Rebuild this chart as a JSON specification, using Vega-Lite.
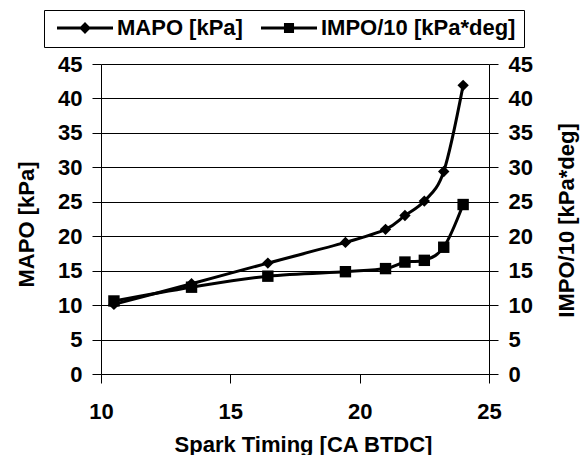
{
  "$schema": "https://vega.github.io/schema/vega-lite/v6.json",
  "width": 388,
  "height": 310,
  "autosize": {"type": "none"},
  "padding": {"left": 101, "top": 64, "right": 93, "bottom": 81},
  "background": "white",
  "config": {
    "font": "Liberation Sans",
    "view": {"stroke": null},
    "axis": {
      "domainColor": "black",
      "domainWidth": 1,
      "tickColor": "black",
      "tickWidth": 1,
      "tickSize": 9,
      "labelFlush": false,
      "labelFontSize": 22,
      "labelFontWeight": "bold",
      "labelColor": "black",
      "titleFontSize": 22,
      "titleFontWeight": "bold",
      "titleColor": "black"
    }
  },
  "data": {
    "values": [
      {"timing": 10.5, "series": "MAPO [kPa]", "value": 10.1},
      {"timing": 13.5, "series": "MAPO [kPa]", "value": 13.1},
      {"timing": 16.45, "series": "MAPO [kPa]", "value": 16.1},
      {"timing": 19.45, "series": "MAPO [kPa]", "value": 19.1},
      {"timing": 21.0, "series": "MAPO [kPa]", "value": 21.0},
      {"timing": 21.75, "series": "MAPO [kPa]", "value": 23.0},
      {"timing": 22.5, "series": "MAPO [kPa]", "value": 25.1},
      {"timing": 23.25, "series": "MAPO [kPa]", "value": 29.4},
      {"timing": 24.0, "series": "MAPO [kPa]", "value": 41.9},
      {"timing": 10.5, "series": "IMPO/10 [kPa*deg]", "value": 10.6},
      {"timing": 13.5, "series": "IMPO/10 [kPa*deg]", "value": 12.6},
      {"timing": 16.45, "series": "IMPO/10 [kPa*deg]", "value": 14.2},
      {"timing": 19.45, "series": "IMPO/10 [kPa*deg]", "value": 14.85},
      {"timing": 21.0, "series": "IMPO/10 [kPa*deg]", "value": 15.3},
      {"timing": 21.75, "series": "IMPO/10 [kPa*deg]", "value": 16.25},
      {"timing": 22.5, "series": "IMPO/10 [kPa*deg]", "value": 16.5},
      {"timing": 23.25, "series": "IMPO/10 [kPa*deg]", "value": 18.4},
      {"timing": 24.0, "series": "IMPO/10 [kPa*deg]", "value": 24.6}
    ]
  },
  "encoding": {
    "x": {
      "field": "timing",
      "type": "quantitative",
      "scale": {"domain": [10, 25], "nice": false, "zero": false},
      "axis": {
        "values": [10, 15, 20, 25],
        "grid": false,
        "labelPadding": 18,
        "title": "Spark Timing [CA BTDC]",
        "titleX": 202,
        "titleY": 77,
        "titleBaseline": "alphabetic",
        "titleAlign": "center"
      }
    }
  },
  "layer": [
    {
      "mark": {"type": "line", "interpolate": "cardinal", "color": "black", "strokeWidth": 3},
      "encoding": {
        "y": {
          "field": "value",
          "type": "quantitative",
          "scale": {"domain": [0, 45], "nice": false},
          "axis": {
            "orient": "left",
            "values": [0, 5, 10, 15, 20, 25, 30, 35, 40, 45],
            "grid": true,
            "gridColor": "black",
            "gridWidth": 1,
            "gridOpacity": 1,
            "labelPadding": 10,
            "title": "MAPO [kPa]",
            "titleAngle": 270,
            "titleBaseline": "alphabetic",
            "titleAlign": "center",
            "titleX": -68,
            "titleY": 160
          }
        },
        "detail": {"field": "series", "type": "nominal"}
      }
    },
    {
      "mark": {"type": "point", "filled": true, "opacity": 1, "color": "black", "size": 130},
      "encoding": {
        "y": {
          "field": "value",
          "type": "quantitative",
          "scale": {"domain": [0, 45], "nice": false},
          "axis": {
            "orient": "right",
            "values": [0, 5, 10, 15, 20, 25, 30, 35, 40, 45],
            "grid": false,
            "labelPadding": 10,
            "title": "IMPO/10 [kPa*deg]",
            "titleAngle": 270,
            "titleBaseline": "alphabetic",
            "titleAlign": "center",
            "titleX": 84,
            "titleY": 156
          }
        },
        "shape": {
          "field": "series",
          "type": "nominal",
          "scale": {"domain": ["MAPO [kPa]", "IMPO/10 [kPa*deg]"], "range": ["diamond", "square"]},
          "legend": null
        }
      }
    },
    {
      "transform": [{"filter": "datum.value < 0"}],
      "mark": {"type": "point", "filled": true, "color": "black", "opacity": 1},
      "encoding": {
        "y": {
          "field": "value",
          "type": "quantitative",
          "scale": {"domain": [0, 45], "nice": false},
          "axis": null
        },
        "shape": {
          "field": "series",
          "type": "nominal",
          "scale": {
            "domain": ["MAPO [kPa]", "IMPO/10 [kPa*deg]"],
            "range": [
              "M-1,-0.05H1V0.05H-1ZM0,-0.21L0.21,0L0,0.21L-0.21,0Z",
              "M-1,-0.05H1V0.05H-1ZM-0.18,-0.18H0.18V0.18H-0.18Z"
            ]
          },
          "legend": {
            "title": null,
            "orient": "none",
            "legendX": -57,
            "legendY": -54,
            "direction": "horizontal",
            "strokeColor": "black",
            "fillColor": "white",
            "padding": 8,
            "symbolSize": 3136,
            "clipHeight": 20,
            "symbolOffset": 5,
            "labelFontSize": 22,
            "labelFontWeight": "bold",
            "labelColor": "black",
            "labelLimit": 400,
            "labelOffset": 4,
            "columnPadding": 13,
            "symbolStrokeWidth": 0,
            "symbolFillColor": "black",
            "symbolOpacity": 1
          }
        }
      }
    }
  ],
  "resolve": {"scale": {"y": "independent", "shape": "independent"}, "legend": {"shape": "independent"}}
}
